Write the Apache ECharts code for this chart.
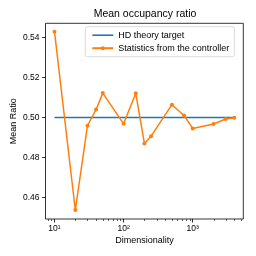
<!DOCTYPE html>
<html><head><meta charset="utf-8">
<script src="https://cdn.jsdelivr.net/npm/echarts@6/dist/echarts.min.js"></script>
<style>html,body{margin:0;padding:0;background:#fff}#c{width:256px;height:256px}</style>
</head><body><div id="c"></div>
<script>
const dims = [10, 20, 30, 40, 50, 100, 150, 200, 250, 500, 750, 1000, 2000, 3000, 4000];
const ratios = [0.543, 0.4536, 0.4959, 0.504, 0.5122, 0.4968, 0.5121, 0.4870, 0.4906, 0.5064, 0.5010, 0.4945, 0.4967, 0.4992, 0.4999];
const targetDims = [10, 4000];
const targetVals = [0.5, 0.5];
const xMajor = [10, 100, 1000];
const xMinor = [8, 9, 20, 30, 40, 50, 60, 70, 80, 90, 200, 300, 400, 500, 600, 700, 800, 900, 2000, 3000, 4000, 5000];
const yTicks = [0.46, 0.48, 0.50, 0.52, 0.54];
const sup = {1: '\u00b9', 2: '\u00b2', 3: '\u00b3'};
const FONT = 'Liberation Sans, Arial, sans-serif';
const X_MIN = 7.41, X_MAX = 5395, Y_MIN = 0.4491, Y_MAX = 0.5472;

const chart = echarts.init(document.getElementById('c'), null, {renderer: 'canvas'});
chart.setOption({
  animation: false,
  title: {text: 'Mean occupancy ratio', left: 140, top: 4, textAlign: 'center',
    textStyle: {fontFamily: FONT, fontSize: 10.5, fontWeight: 'normal', color: '#000'}},
  grid: {left: 45.5, right: 12.7, top: 23.3, bottom: 37, show: true, borderColor: '#000', borderWidth: 0.8,
    outerBoundsMode: 'none', containLabel: false},
  legend: {
    orient: 'vertical', left: 85.3, top: 26.7, padding: [4, 5, 4, 6], itemGap: 4,
    itemWidth: 21, itemHeight: 5,
    borderColor: '#d0d0d0', borderWidth: 0.8, borderRadius: 2, backgroundColor: 'rgba(255,255,255,0.8)',
    textStyle: {fontFamily: FONT, fontSize: 9, color: '#000'},
    data: [
      {name: 'HD theory target', icon: 'path://M0,0L40,0L40,3L0,3Z'},
      {name: 'Statistics from the controller'}
    ]
  },
  xAxis: {
    type: 'log', logBase: 10, min: X_MIN, max: X_MAX, splitLine: {show: false},
    name: 'Dimensionality', nameLocation: 'middle', nameGap: 17, nameMoveOverlap: false,
    nameTextStyle: {fontFamily: FONT, fontSize: 9, color: '#000'},
    axisLine: {show: false},
    axisTick: {show: true, length: 3.5, lineStyle: {color: '#000', width: 0.8}, customValues: xMajor},
    axisLabel: {customValues: xMajor, margin: 5, fontFamily: FONT, fontSize: 8.5, color: '#000',
      formatter: v => '10' + sup[Math.round(Math.log10(v))]}
  },
  yAxis: {
    type: 'value', min: Y_MIN, max: Y_MAX, splitLine: {show: false},
    name: 'Mean Ratio', nameLocation: 'middle', nameGap: 27, nameMoveOverlap: false,
    nameTextStyle: {fontFamily: FONT, fontSize: 9, color: '#000'},
    axisLine: {show: false},
    axisTick: {show: true, length: 3.5, lineStyle: {color: '#000', width: 0.8}, customValues: yTicks},
    axisLabel: {customValues: yTicks, margin: 6, fontFamily: FONT, fontSize: 8.5, color: '#000',
      formatter: v => v.toFixed(2)}
  },
  series: [
    {name: 'HD theory target', type: 'line', symbol: 'none',
      data: targetDims.map((d, i) => [d, targetVals[i]]),
      lineStyle: {color: '#1f77b4', width: 1.5}, itemStyle: {color: '#1f77b4'}},
    {name: 'Statistics from the controller', type: 'line', symbol: 'circle', symbolSize: 4,
      data: dims.map((d, i) => [d, ratios[i]]),
      lineStyle: {color: '#ff7f0e', width: 1.5}, itemStyle: {color: '#ff7f0e'}}
  ]
});
// minor ticks of the log axis, positioned through the chart's own x scale
const yBottom = chart.convertToPixel({yAxisIndex: 0}, Y_MIN);
const tickEls = xMinor.filter(v => v > X_MIN && v < X_MAX).map(v => {
  const x = Math.round(chart.convertToPixel({xAxisIndex: 0}, v)) + 0.5;
  return {type: 'line', silent: true, shape: {x1: x, y1: yBottom, x2: x, y2: yBottom + 2},
    style: {stroke: '#000', lineWidth: 0.6}};
});
chart.setOption({graphic: tickEls});
</script></body></html>
